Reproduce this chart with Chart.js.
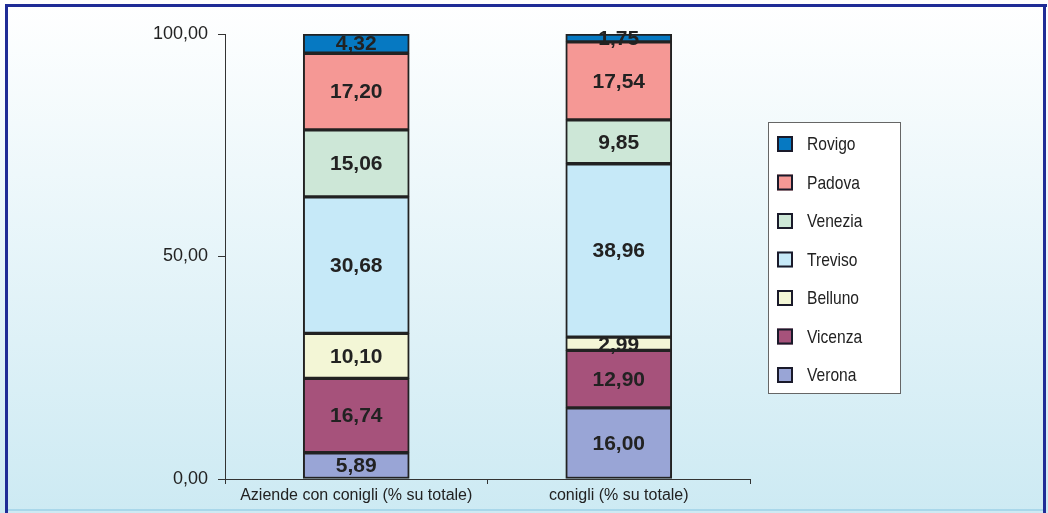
<!DOCTYPE html>
<html>
<head>
<meta charset="utf-8">
<script src="https://cdn.jsdelivr.net/npm/chart.js@4"></script>
<style>
  html, body { margin: 0; padding: 0; background: #fff; }
  #wrap { width: 1048px; height: 513px; }
</style>
</head>
<body>
<div id="wrap"><canvas id="chart" width="1048" height="513"></canvas></div>
<script>
const categories = ['Aziende con conigli (% su totale)', 'conigli (% su totale)'];
const provinces = ['Verona', 'Vicenza', 'Belluno', 'Treviso', 'Venezia', 'Padova', 'Rovigo'];
const verona  = [5.89, 16.00];
const vicenza = [16.74, 12.90];
const belluno = [10.10, 2.99];
const treviso = [30.68, 38.96];
const venezia = [15.06, 9.85];
const padova  = [17.20, 17.54];
const rovigo  = [4.32, 1.75];
const colors = ['#99a5d6', '#a6527b', '#f3f6d6', '#c6e9f8', '#cde7d7', '#f59895', '#0679c2'];
const yTicks = [0, 50, 100];

const series = [verona, vicenza, belluno, treviso, venezia, padova, rovigo];
const fmt = v => v.toFixed(2).replace('.', ',');
const sans = '"Liberation Sans", Arial, sans-serif';

const background = {
  id: 'background',
  beforeDraw(chart) {
    const c = chart.ctx;
    const g = c.createLinearGradient(0, 0, 0, 513);
    g.addColorStop(0, '#ffffff');
    g.addColorStop(1, '#cdeaf3');
    c.save();
    c.fillStyle = g;
    c.fillRect(0, 0, 1048, 513);
    c.fillStyle = '#a9d7ea';
    c.fillRect(6, 509, 1040, 2);
    c.fillStyle = '#1f2c96';
    c.fillRect(5, 4, 1042, 3);
    c.fillRect(5, 4, 3, 509);
    c.fillRect(1043, 4, 3, 509);
    c.restore();
  }
};

const valueLabels = {
  id: 'valueLabels',
  afterDatasetsDraw(chart) {
    const c = chart.ctx;
    c.save();
    c.font = 'bold 21px ' + sans;
    c.fillStyle = '#222';
    c.textAlign = 'center';
    c.textBaseline = 'middle';
    chart.data.datasets.forEach((ds, i) => {
      chart.getDatasetMeta(i).data.forEach((bar, j) => {
        const y = (bar.y + bar.base) / 2;
        c.fillText(fmt(ds.data[j]), bar.x, y + 1);
      });
    });
    c.restore();
  }
};

const boxLegend = {
  id: 'boxLegend',
  afterDraw(chart) {
    const c = chart.ctx;
    c.save();
    c.fillStyle = '#ffffff';
    c.fillRect(768, 122, 132, 271);
    c.strokeStyle = '#666';
    c.lineWidth = 1;
    c.strokeRect(768.5, 122.5, 132, 271);
    c.textBaseline = 'middle';
    const ds = chart.data.datasets;
    for (let k = 0; k < ds.length; k++) {
      const d = ds[ds.length - 1 - k];
      const cy = 144 + k * 38.5;
      c.fillStyle = d.backgroundColor;
      c.fillRect(777, cy - 8, 16, 16);
      c.strokeStyle = '#1a1a2a';
      c.lineWidth = 2;
      c.strokeRect(778, cy - 7, 14, 14);
      c.fillStyle = '#222';
      // condensed look: squeeze a slightly larger font horizontally
      c.save();
      c.translate(807, cy + 1);
      c.scale(0.82, 1);
      c.font = '19px ' + sans;
      c.fillText(d.label, 0, 0);
      c.restore();
    }
    c.restore();
  }
};

new Chart(document.getElementById('chart'), {
  type: 'bar',
  data: {
    labels: categories,
    datasets: provinces.map((p, i) => ({
      label: p,
      data: series[i],
      backgroundColor: colors[i],
      borderColor: '#222',
      borderWidth: 2,
      borderSkipped: false,
      barThickness: 106
    }))
  },
  options: {
    responsive: false,
    animation: false,
    layout: { padding: { left: 0, top: 34, right: 298, bottom: 0 } },
    plugins: {
      legend: { display: false },
      tooltip: { enabled: false }
    },
    scales: {
      x: {
        stacked: true,
        afterFit: s => { s.height = 34; },
        grid: { drawOnChartArea: false, color: '#333', tickLength: 5, offset: true },
        border: { color: '#333', width: 1 },
        ticks: {
          color: '#222',
          font: { family: sans, size: 16 },
          padding: 2,
          maxRotation: 0,
          minRotation: 0,
          autoSkip: false
        }
      },
      y: {
        stacked: true,
        min: 0,
        max: 100,
        afterFit: s => { s.width = 225; },
        afterBuildTicks: s => { s.ticks = yTicks.map(v => ({ value: v })); },
        grid: { drawOnChartArea: false, color: '#333', tickLength: 7 },
        border: { color: '#333', width: 1 },
        ticks: {
          color: '#222',
          font: { family: sans, size: 18 },
          padding: 10,
          callback: v => fmt(v)
        }
      }
    }
  },
  plugins: [background, valueLabels, boxLegend]
});
</script>
</body>
</html>
